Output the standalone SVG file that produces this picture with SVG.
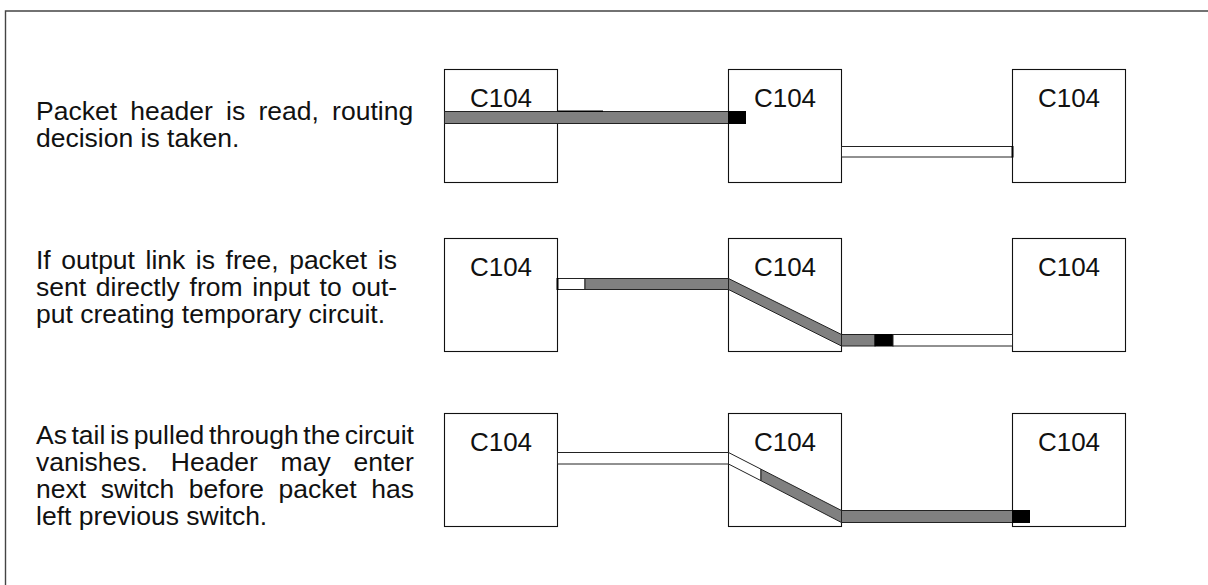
<svg xmlns="http://www.w3.org/2000/svg" width="1208" height="585" viewBox="0 0 1208 585">
<style>
.frame{fill:none;stroke:#444;stroke-width:1.4}
.box{fill:#fff;stroke:#111;stroke-width:1.1}
.lbl{font-family:"Liberation Sans",Arial,sans-serif;font-size:26px;fill:#111;text-anchor:middle}
.txt{font-family:"Liberation Sans",Arial,sans-serif;font-size:26.5px;fill:#111}
.g{fill:#808080;stroke:#222;stroke-width:1}
.w{fill:#fff;stroke:#222;stroke-width:1}
.k{fill:#000;stroke:#000;stroke-width:1}
</style>
<rect width="1208" height="585" fill="#fff"/>
<path class="frame" d="M5.5 585 V11 H1208"/>

<g id="captions">
<text class="txt" x="36" y="119.5" style="word-spacing:5.9px">Packet header is read, routing</text>
<text class="txt" x="36" y="146.5">decision is taken.</text>
<text class="txt" x="36" y="268.5" style="word-spacing:3.2px">If output link is free, packet is</text>
<text class="txt" x="36" y="295.5" style="word-spacing:2.4px">sent directly from input to out-</text>
<text class="txt" x="36" y="322.5">put creating temporary circuit.</text>
<text class="txt" x="36" y="443.5" style="word-spacing:-2.8px">As tail is pulled through the circuit</text>
<text class="txt" x="36" y="470.5" style="word-spacing:15.5px">vanishes. Header may enter</text>
<text class="txt" x="36" y="497.5" style="word-spacing:7.2px">next switch before packet has</text>
<text class="txt" x="36" y="524.5">left previous switch.</text>
</g>

<g id="r1n1"><rect class="box" x="444.5" y="69.5" width="113" height="113"/><text class="lbl" x="501" y="106.5">C104</text></g>
<g id="r1n2"><rect class="box" x="728.5" y="69.5" width="113" height="113"/><text class="lbl" x="785" y="106.5">C104</text></g>
<g id="r1n3"><rect class="box" x="1012.5" y="69.5" width="113" height="113"/><text class="lbl" x="1069" y="106.5">C104</text></g>

<g id="r2n1"><rect class="box" x="444.5" y="238.5" width="113" height="113"/><text class="lbl" x="501" y="275.5">C104</text></g>
<g id="r2n2"><rect class="box" x="728.5" y="238.5" width="113" height="113"/><text class="lbl" x="785" y="275.5">C104</text></g>
<g id="r2n3"><rect class="box" x="1012.5" y="238.5" width="113" height="113"/><text class="lbl" x="1069" y="275.5">C104</text></g>

<g id="r3n1"><rect class="box" x="444.5" y="413.5" width="113" height="113"/><text class="lbl" x="501" y="450.5">C104</text></g>
<g id="r3n2"><rect class="box" x="728.5" y="413.5" width="113" height="113"/><text class="lbl" x="785" y="450.5">C104</text></g>
<g id="r3n3"><rect class="box" x="1012.5" y="413.5" width="113" height="113"/><text class="lbl" x="1069" y="450.5">C104</text></g>

<g id="connectors">
<!-- row 1 -->
<rect class="g" x="444.5" y="111.5" width="284" height="12"/>
<line x1="557.5" y1="111.3" x2="603" y2="111.3" stroke="#000" stroke-width="1.4"/>
<rect class="k" x="728.5" y="111.5" width="17" height="12"/>
<rect class="w" x="841.5" y="146.5" width="171" height="10.5"/>
<line x1="1012.5" y1="146" x2="1012.5" y2="157.5" stroke="#000" stroke-width="2"/>
<!-- row 2 -->
<rect class="w" x="557.5" y="278.5" width="27.5" height="11"/>
<line x1="557.5" y1="278" x2="557.5" y2="290" stroke="#000" stroke-width="2"/>
<rect class="g" x="585" y="278.5" width="143.5" height="11"/>
<polygon class="g" points="728.5,278.5 841.5,334.5 841.5,346 728.5,289.5"/>
<rect class="g" x="841.5" y="334.5" width="33.5" height="11.5"/>
<rect class="k" x="875" y="334.5" width="18" height="11.5"/>
<rect class="w" x="893" y="334.5" width="119.5" height="11.5"/>
<!-- row 3 -->
<rect class="w" x="557.5" y="452.5" width="171" height="11.5"/>
<polygon class="w" points="728.5,452.5 761,469.2 761,480.7 728.5,464"/>
<polygon class="g" points="761,469.2 841.5,510.5 841.5,522.5 761,480.7"/>
<rect class="g" x="841.5" y="510.5" width="171" height="12"/>
<rect class="k" x="1012.5" y="510.5" width="17" height="12"/>
</g>
</svg>
